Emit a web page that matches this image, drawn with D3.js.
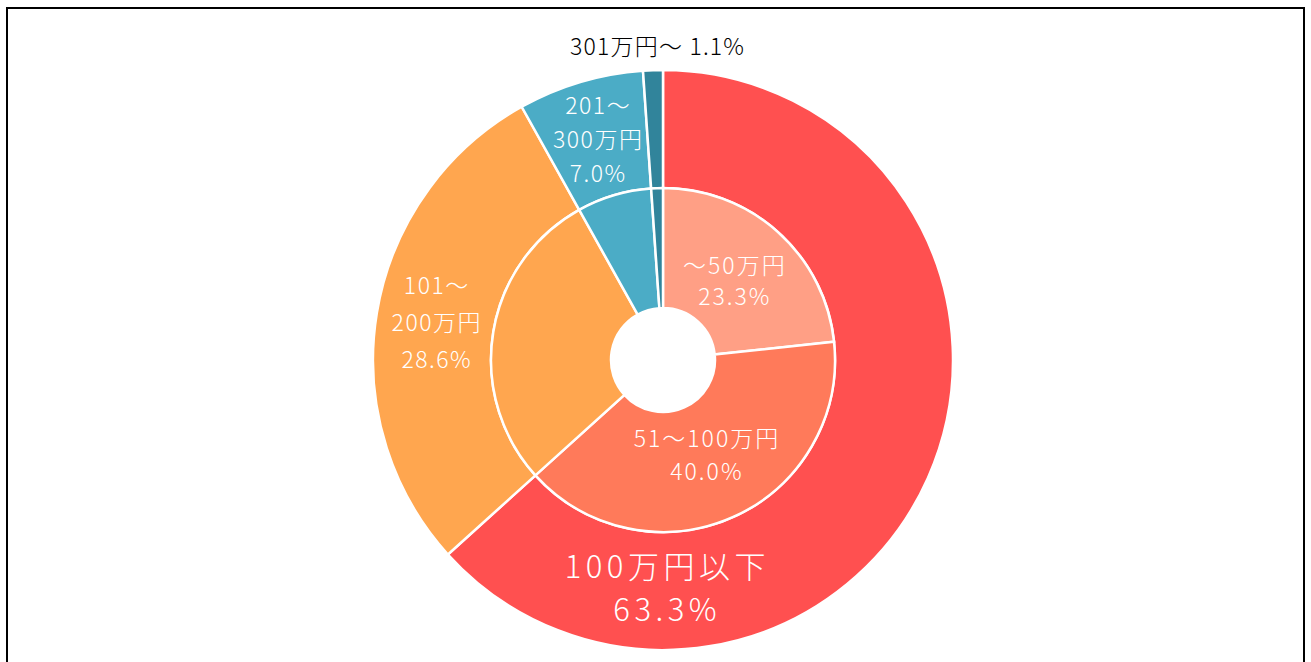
<!DOCTYPE html>
<html lang="ja">
<head>
  <meta charset="UTF-8">
  <title>金額分布</title>
  <style>
    body { margin: 0; background: #fff; }
    text { font-family: "Noto Sans CJK JP", sans-serif; font-weight: 300; }
  </style>
</head>
<body>
  <svg id="svg" width="1311" height="662"></svg>

  <script src="https://d3js.org/d3.v7.min.js"></script>
  <script>
    // outer ring
    const outerNames = ['100万円以下', '101～200万円', '201～300万円', '301万円～']
    const outerValues = [63.3, 28.6, 7.0, 1.1]
    const outerColors = ['#FF5050', '#FFA64F', '#4BACC6', '#31849B']

    // inner ring (first bucket split in two)
    const innerNames = ['～50万円', '51～100万円', '101～200万円', '201～300万円', '301万円～']
    const innerValues = [23.3, 40.0, 28.6, 7.0, 1.1]
    const innerColors = ['#FF9F85', '#FF7A5A', '#FFA64F', '#4BACC6', '#31849B']

    const cx = 663
    const cy = 360
    const rHole = 52
    const rMid = 172
    const rOuter = 290

    const svg = d3.select('#svg')

    // frame
    svg.append('rect')
      .attr('x', 7).attr('y', 8)
      .attr('width', 1297).attr('height', 700)
      .attr('fill', 'none')
      .attr('stroke', '#000')
      .attr('stroke-width', 2)

    const pie = d3.pie().sort(null).value(d => d)

    const outerArc = d3.arc().innerRadius(rMid).outerRadius(rOuter)
    const innerArc = d3.arc().innerRadius(rHole).outerRadius(rMid)

    const g = svg.append('g').attr('transform', `translate(${cx}, ${cy})`)

    const outerData = pie(outerValues)
    const innerData = pie(innerValues)

    g.append('g')
      .selectAll('path')
      .data(outerData)
      .enter()
      .append('path')
      .attr('d', outerArc)
      .attr('fill', (d, i) => outerColors[i])
      .attr('stroke', '#fff')
      .attr('stroke-width', 2.5)

    g.append('g')
      .selectAll('path')
      .data(innerData)
      .enter()
      .append('path')
      .attr('d', innerArc)
      .attr('fill', (d, i) => innerColors[i])
      .attr('stroke', '#fff')
      .attr('stroke-width', 2.5)

    const fmt = v => v.toFixed(1) + '%'

    // label at a given radius along the slice's middle angle
    const at = (d, r) => {
      const a = (d.startAngle + d.endAngle) / 2
      return [r * Math.sin(a), -r * Math.cos(a)]
    }

    const drawLabel = (pos, lines, size, color, lh, ls) => {
      const t = g.append('text')
        .attr('text-anchor', 'middle')
        .attr('fill', color)
        .style('font-size', size + 'px')
        .style('letter-spacing', ls + 'px')
      const y0 = pos[1] - (lines.length - 1) * lh / 2
      lines.forEach((s, i) => {
        t.append('tspan')
          .attr('x', pos[0] + ls / 2)
          .attr('y', y0 + i * lh)
          .attr('dy', '0.35em')
          .text(s)
      })
    }

    // outer labels
    drawLabel([2, 229], [outerNames[0], fmt(outerValues[0])], 31, '#fff', 43, 4.5)
    drawLabel(at(outerData[1], 230), ['101～', '200万円', fmt(outerValues[1])], 23, '#fff', 37, 1.5)
    drawLabel(at(outerData[2], 230), ['201～', '300万円', fmt(outerValues[2])], 23, '#fff', 34, 1.5)
    drawLabel([-6, -313], [outerNames[3] + ' ' + fmt(outerValues[3])], 23, '#000', 30, 1.2)

    // inner labels
    drawLabel(at(innerData[0], 106), [innerNames[0], fmt(innerValues[0])], 23, '#fff', 31, 2)
    drawLabel(at(innerData[1], 105), [innerNames[1], fmt(innerValues[1])], 23, '#fff', 33, 2)
  </script>
</body>
</html>
